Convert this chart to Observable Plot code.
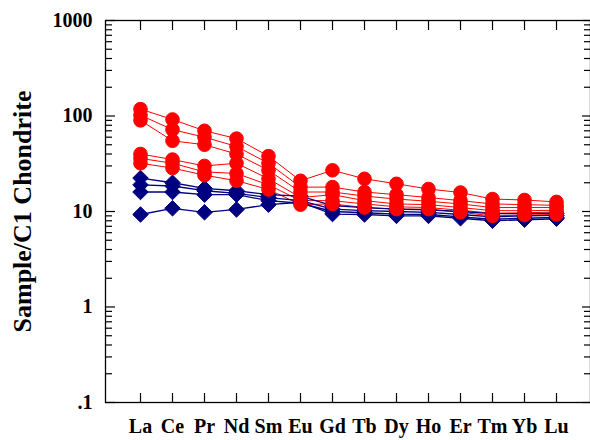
<!DOCTYPE html>
<html>
<head>
<meta charset="utf-8">
<script src="https://cdn.jsdelivr.net/npm/d3@7"></script>
<script src="https://cdn.jsdelivr.net/npm/@observablehq/plot@0.6"></script>
<style>
  html, body { margin: 0; padding: 0; background: #fff; overflow: hidden; }
</style>
</head>
<body>
<div id="chart"></div>
<script>
// Categories (REE)
const elements = ["La","Ce","Pr","Nd","Sm","Eu","Gd","Tb","Dy","Ho","Er","Tm","Yb","Lu"];

// Red samples (chondrite-normalized)
const red1 = [118, 92, 70, 58, 38, 21, 27, 22, 19.5, 17.2, 15.8, 13.5, 13.2, 12.6];
const red2 = [102, 72, 60, 48, 32, 18, 18, 16, 15, 14, 13, 12, 11.8, 11.6];
const red3 = [90, 55, 50, 40, 27, 16, 16, 14.5, 13.5, 12.8, 12, 11, 11, 11];
const red4 = [40, 35, 30, 32, 22, 14, 15, 13, 12, 11.8, 11, 10.2, 10.2, 10.3];
const red5 = [36, 32, 26, 25, 19, 13, 13, 12, 11.2, 11, 10.3, 9.6, 9.7, 9.9];
const red6 = [32, 28.5, 24, 21, 17, 11.8, 12, 11, 10.6, 10.6, 9.8, 9, 9.2, 9.3];

// Blue samples
const blue1 = [22.4, 20, 17.5, 16.5, 15, 14.5, 11.5, 11, 10.6, 10.4, 10, 9.5, 9.5, 9.6];
const blue2 = [19, 18.5, 16.5, 15.5, 14, 13, 10.6, 10.2, 10, 9.8, 9.3, 8.8, 9, 9.1];
const blue3 = [16, 16, 15, 15, 13, 12.2, 10, 9.7, 9.4, 9.3, 8.8, 8.3, 8.5, 8.7];
const blue4 = [9.3, 10.8, 9.8, 10.5, 11.8, 12.5, 9.4, 9.3, 9, 9, 8.5, 8, 8.2, 8.4];

const redSeries = [red1, red2, red3, red4, red5, red6];
const blueSeries = [blue1, blue2, blue3, blue4];

// Axis ticks
const yTickValues = [0.1, 1, 10, 100, 1000];
const yTickLabels = [".1", "1", "10", "100", "1000"];
const minorMultipliers = [2, 3, 4, 5, 6, 7, 8, 9];
const minorTicks = yTickValues.slice(0, -1).flatMap(d => minorMultipliers.map(m => d * m));

const yLabel = "Sample/C1 Chondrite";

function tidy(series, group) {
  return series.flatMap((vals, i) => vals.map((v, j) => ({el: elements[j], v, sample: group + i})));
}
const redData = tidy(redSeries, "r");
const blueData = tidy(blueSeries, "b");

const W = 590, H = 440;
const mL = 105, mR = 0, mT = 20, mB = 38;
const fw = W - mL - mR, fh = H - mT - mB;
const RED = "#ff0000", NAVY = "#000080";
const font = "'Liberation Serif', 'Times New Roman', serif";

const chart = Plot.plot({
  width: W, height: H,
  marginLeft: mL, marginRight: mR, marginTop: mT, marginBottom: mB,
  style: {fontFamily: font, fontWeight: "bold", color: "black", background: "white"},
  x: {type: "point", domain: elements, padding: 1, label: null},
  y: {type: "log", domain: [0.1, 1000], label: null},
  marks: [
    // tick marks (inward)
    Plot.tickY(yTickValues, {y: d => d, insetRight: fw - 10, stroke: "black", strokeWidth: 1.2}),
    Plot.tickY(minorTicks, {y: d => d, insetRight: fw - 7, stroke: "black", strokeWidth: 1.2}),
    Plot.tickY(yTickValues, {y: d => d, insetLeft: fw - 8, stroke: "black", strokeWidth: 1.2}),
    Plot.tickY(minorTicks, {y: d => d, insetLeft: fw - 6, stroke: "black", strokeWidth: 1.2}),
    Plot.tickX(elements, {x: d => d, insetTop: fh - 9, stroke: "black", strokeWidth: 1.2}),
    Plot.tickX(elements, {x: d => d, insetBottom: fh - 10, stroke: "black", strokeWidth: 1.2}),
    Plot.frame({stroke: "black", strokeWidth: 1.3}),
    // axes labels
    Plot.axisX({tickSize: 0, tickPadding: 16, fontSize: 20, fontWeight: "bold"}),
    Plot.axisY({ticks: yTickValues, tickFormat: d => yTickLabels[yTickValues.indexOf(d)], tickSize: 0, tickPadding: 13, fontSize: 20, fontWeight: "bold", label: null}),
    Plot.axisY({ticks: [], tickSize: 0, label: yLabel, labelAnchor: "center", labelOffset: 93, labelArrow: "none", fontSize: 26, fontWeight: "bold"}),
    // lines
    Plot.line(redData, {x: "el", y: "v", z: "sample", stroke: RED, strokeWidth: 1}),
    Plot.line(blueData, {x: "el", y: "v", z: "sample", stroke: NAVY, strokeWidth: 1.3}),
    // markers
    Plot.dot(blueData, {x: "el", y: "v", symbol: "diamond2", r: 7, fill: NAVY, stroke: NAVY, strokeWidth: 1}),
    Plot.dot(redData, {x: "el", y: "v", symbol: "circle", r: 6.8, fill: RED, stroke: RED, strokeWidth: 1})
  ]
});
document.getElementById("chart").appendChild(chart);
</script>
</body>
</html>
